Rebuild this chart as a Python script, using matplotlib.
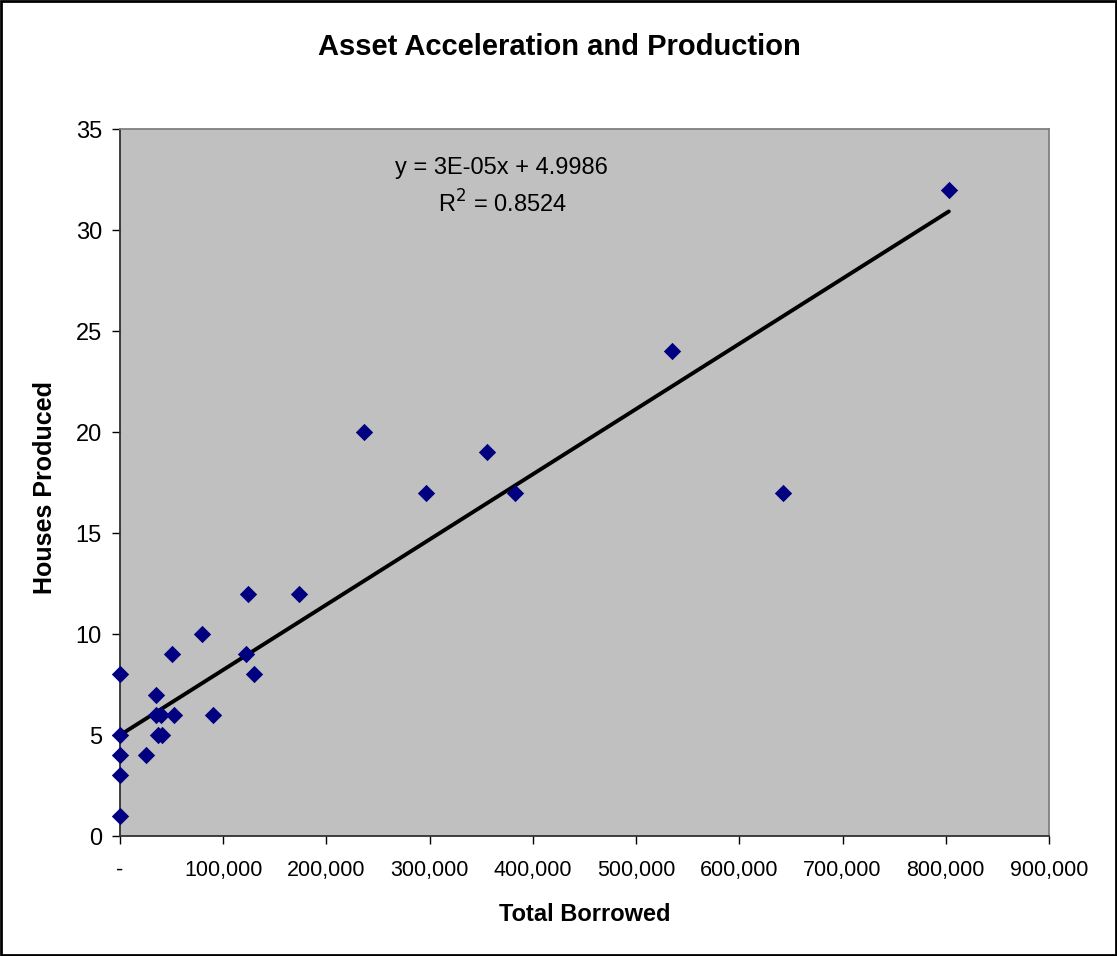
"""Scatter of total borrowed vs houses produced, with a linear trend line."""
import matplotlib.pyplot as plt
from matplotlib.patches import Rectangle
from matplotlib.ticker import FuncFormatter, MultipleLocator

plt.rcParams["font.family"] = ["Liberation Sans", "DejaVu Sans"]

# total borrowed per borrower and the houses each produced
borrowed = [0, 0, 0, 0, 0, 25000, 35000, 35000, 37000, 41000, 40000,
            50000, 52000, 79000, 90000, 122000, 124000, 130000, 173000,
            236000, 296000, 356000, 383000, 535000, 642000, 803000]
houses = [8, 5, 4, 3, 1, 4, 7, 6, 5, 5, 6,
          9, 6, 10, 6, 9, 12, 8, 12,
          20, 17, 19, 17, 24, 17, 32]

# linear trend (slope shown rounded as 3E-05 in the label)
trend_slope = 3.23e-5
trend_intercept = 4.9986
trend_label = "y = 3E-05x + 4.9986"
r2_label = "R$^2$ = 0.8524"


def excel_thousands(v, pos):
    if abs(v) < 1e-9:
        return "-"
    return f"{v:,.0f}"


fig = plt.figure(figsize=(11.17, 9.56), dpi=100)
ax = fig.add_axes([0.1074, 0.1255, 0.8317, 0.7392])
ax.set_facecolor("#C0C0C0")

ax.scatter(borrowed, houses, marker="D", s=78, color="#000080", zorder=3,
           clip_on=False, linewidths=0)

x0, x1 = min(borrowed), max(borrowed)
ax.plot([x0, x1], [trend_intercept + trend_slope * x0, trend_intercept + trend_slope * x1],
        color="black", lw=2.8, solid_capstyle="round", zorder=2)

ax.set_xlim(0, 900000)
ax.set_ylim(0, 35)
ax.xaxis.set_major_locator(MultipleLocator(100000))
ax.yaxis.set_major_locator(MultipleLocator(5))
ax.xaxis.set_major_formatter(FuncFormatter(excel_thousands))
ax.tick_params(axis="both", direction="out", length=6, width=1, color="black")
ax.tick_params(axis="x", pad=11, labelsize=15.5)
ax.tick_params(axis="y", pad=7, labelsize=17)

for side in ("left", "bottom"):
    ax.spines[side].set_color("#303030")
    ax.spines[side].set_linewidth(1.3)
for side in ("top", "right"):
    ax.spines[side].set_color("#808080")
    ax.spines[side].set_linewidth(1.3)

ax.text(0.411, 0.945, trend_label, transform=ax.transAxes, ha="center",
        va="center", fontsize=17)
ax.text(0.412, 0.894, r2_label, transform=ax.transAxes, ha="center",
        va="center", fontsize=17)

fig.text(0.5005, 0.951, "Asset Acceleration and Production", ha="center",
         va="center", fontsize=21, fontweight="bold")
ax.set_xlabel("Total Borrowed", fontsize=17, fontweight="bold", labelpad=16)
fig.text(45 / 1117, 1 - 487 / 956, "Houses Produced", rotation=90, ha="center",
         va="center", fontsize=18, fontweight="bold")

# chart area border
fig.patches.append(Rectangle((0.001, 0.001), 0.998, 0.998, transform=fig.transFigure,
                             fill=False, edgecolor="black", lw=2))

fig.savefig("out.png", dpi=100)
